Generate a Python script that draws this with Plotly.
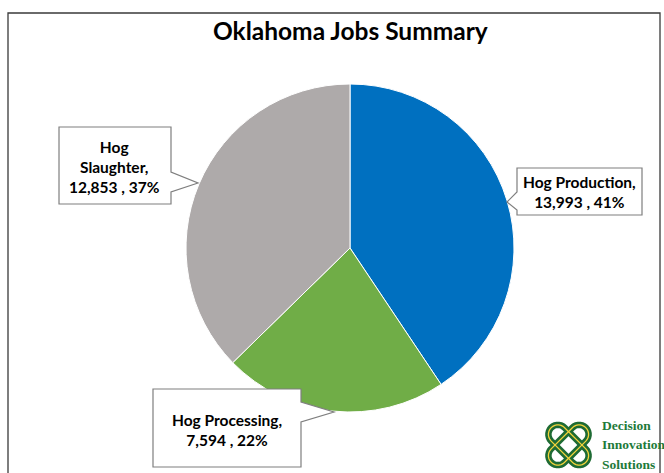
import math
import plotly.graph_objects as go

# ---- data ----
categories = ["Hog Production", "Hog Processing", "Hog Slaughter"]
jobs = [13993, 7594, 12853]
label_names = ["Hog Production,", "Hog Processing,", "Hog<br>Slaughter,"]
colors = ["#0070C0", "#70AD47", "#AEAAAA"]

W, H = 664, 473

def px(x):
    return x / W

def py(y):
    return 1 - y / H

total = sum(jobs)
pcts = [round(v / total * 100) for v in jobs]
labels_text = [f"{n}<br>{v:,} , {p}%" for n, v, p in zip(label_names, jobs, pcts)]

cx, cy, r = 350, 248, 164

fig = go.Figure(go.Pie(
    labels=categories,
    values=jobs,
    marker=dict(colors=colors, line=dict(color="white", width=1)),
    sort=False,
    direction="clockwise",
    rotation=0,
    textinfo="none",
    hoverinfo="label+value+percent",
    showlegend=False,
    domain=dict(x=[px(cx - r), px(cx + r)], y=[py(cy + r), py(cy - r)]),
))

def path(pts, close=True):
    s = "M " + " L ".join(f"{px(x):.5f},{py(y):.5f}" for x, y in pts)
    return s + (" Z" if close else "")

callouts = [
    dict(pts=[(517, 168), (642, 168), (642, 215), (517, 215), (517, 210), (507, 202), (517, 192)],
         c=(579.5, 192)),
    dict(pts=[(153, 389), (301, 389), (301, 402), (334, 412), (301, 422), (301, 467), (153, 467)],
         c=(227, 430)),
    dict(pts=[(59, 127), (171, 127), (171, 172), (198, 183), (171, 192), (171, 204), (59, 204)],
         c=(115, 167)),
]

shapes = [
    dict(type="rect", xref="paper", yref="paper", x0=px(8), x1=px(660), y0=py(480), y1=py(13),
         line=dict(color="#3a3a3a", width=1.3), fillcolor="rgba(0,0,0,0)", layer="below"),
]
annotations = [
    dict(text="<b>Oklahoma Jobs Summary</b>", x=px(350), y=py(30), xref="paper", yref="paper",
         showarrow=False, font=dict(family="Lato", size=24.5, color="#000000"),
         xanchor="center", yanchor="middle"),
]
for co, t in zip(callouts, labels_text):
    shapes.append(dict(type="path", xref="paper", yref="paper", path=path(co["pts"]),
                       fillcolor="white", line=dict(color="#7f7f7f", width=1.2)))
    annotations.append(dict(text=f"<b>{t}</b>", x=px(co["c"][0]), y=py(co["c"][1]),
                            xref="paper", yref="paper", showarrow=False,
                            font=dict(family="Lato", size=15.5, color="#000000"),
                            xanchor="center", yanchor="middle", align="center"))

# logo knot (decorative approximation: two crossed stadium loops)
knot_green = "#1E6B34"
knot_yellow = "#F2D33B"

def stadium(c0, c1, theta_deg, half_len, rad, n=14):
    t = math.radians(theta_deg)
    ux, uy = math.cos(t), math.sin(t)
    nx, ny = -uy, ux
    p1 = (c0 + ux * half_len, c1 + uy * half_len)
    p2 = (c0 - ux * half_len, c1 - uy * half_len)
    pts = []
    base = math.atan2(ny, nx)
    for k in range(n + 1):
        a = base - math.pi * k / n
        pts.append((p1[0] + rad * math.cos(a), p1[1] + rad * math.sin(a)))
    for k in range(n + 1):
        a = base + math.pi - math.pi * k / n
        pts.append((p2[0] + rad * math.cos(a), p2[1] + rad * math.sin(a)))
    return pts

knot_loops = [stadium(568.5, 445, ang, 15, 9.5) for ang in (45, 135)]
for pts in knot_loops:
    shapes.append(dict(type="path", xref="paper", yref="paper", path=path(pts),
                       line=dict(color=knot_green, width=6.5), fillcolor="rgba(0,0,0,0)"))
for pts in knot_loops:
    shapes.append(dict(type="path", xref="paper", yref="paper", path=path(pts),
                       line=dict(color=knot_yellow, width=1.3), fillcolor="rgba(0,0,0,0)"))

for i, word in enumerate(["Decision", "Innovation", "Solutions"]):
    annotations.append(dict(text=f"<b>{word}</b>", x=px(600), y=py(425 + 19.5 * i),
                            xref="paper", yref="paper", showarrow=False,
                            font=dict(family="Liberation Serif", size=13.5, color="#1E7A3A"),
                            xanchor="left", yanchor="middle"))

fig.update_layout(
    width=W, height=H,
    margin=dict(l=0, r=0, t=0, b=0),
    paper_bgcolor="white",
    plot_bgcolor="white",
    shapes=shapes,
    annotations=annotations,
)

fig.write_html("out.html", config={"displayModeBar": False},
               post_script="document.body.style.margin='0';document.body.style.overflow='hidden';")
